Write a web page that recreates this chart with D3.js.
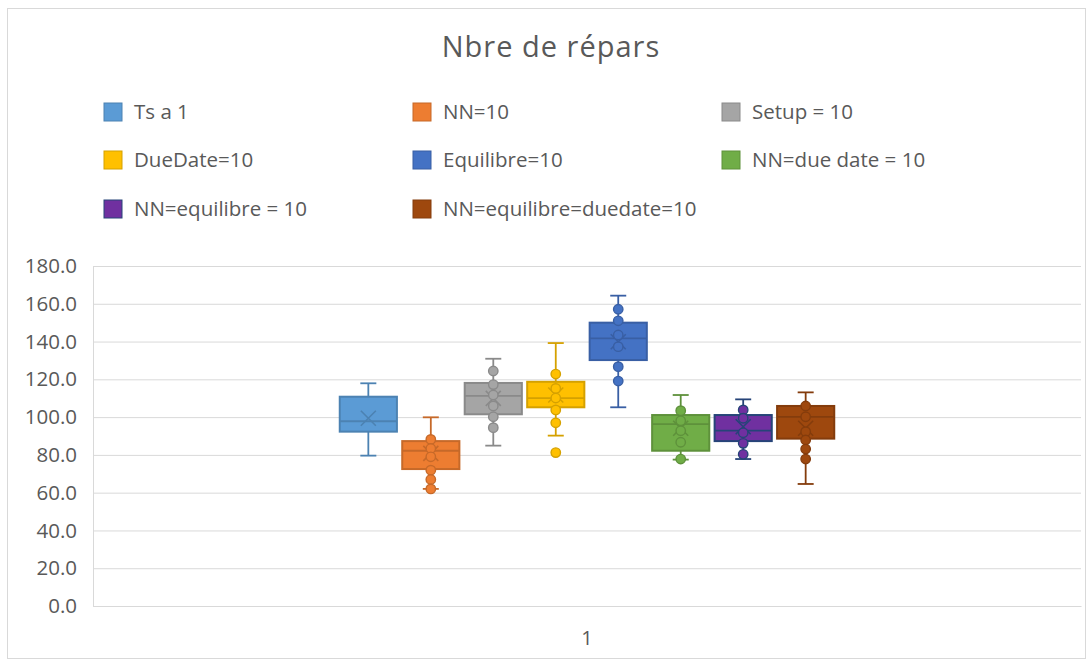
<!DOCTYPE html>
<html><head><meta charset="utf-8">
<script src="https://cdn.jsdelivr.net/npm/d3@7"></script>
<style>body{margin:0;background:#fff}svg{display:block}text{font-family:"Open Sans",sans-serif}</style>
</head><body>
<script>
const categories = ["1"];
const seriesNames = ["Ts a 1","NN=10","Setup = 10","DueDate=10","Equilibre=10","NN=due date = 10","NN=equilibre = 10","NN=equilibre=duedate=10"];
const whiskerLow  = [79.6, 62.0, 84.9, 90.2, 105.2, 77.5, 77.8, 64.6];
const q1Values    = [92.3, 72.5, 101.5, 105.2, 130.2, 82.2, 87.3, 88.6];
const medians     = [97.8, 82.2, 111.2, 110.0, 141.7, 96.3, 92.8, 100.1];
const q3Values    = [110.8, 87.3, 118.1, 118.7, 150.0, 101.1, 101.1, 105.9];
const whiskerHigh = [117.9, 99.9, 130.9, 139.2, 164.3, 111.7, 109.4, 113.1];
const means       = [99.4, 80.8, 109.9, 111.7, 139.9, 94.1, 94.9, 94.1];
const innerPoints = [
  [],
  [88.2, 83.4, 79.0, 71.9, 67.0, 62.0],
  [124.4, 117.2, 111.7, 105.9, 100.2, 94.4],
  [122.8, 115.2, 110.1, 103.8, 97.0, 81.2],
  [157.1, 151.0, 143.5, 137.3, 126.7, 119.1],
  [103.4, 98.1, 92.8, 86.7, 77.8],
  [103.8, 99.4, 91.7, 86.1, 80.3],
  [105.9, 100.2, 92.3, 87.9, 83.1, 77.8]
];
const yTicks = [0,20,40,60,80,100,120,140,160,180];

const fills = ["#5B9BD5","#ED7D31","#A5A5A5","#FFC000","#4472C4","#70AD47","#7030A0","#9E480E"];
const strokes = fills.map(c => d3.color(c).darker(0.5).formatHex());
strokes[6] = "#264478";

const W = 1091, H = 662;
const svg = d3.select("body").append("svg").attr("width", W).attr("height", H);
svg.append("rect").attr("x",7.5).attr("y",8.5).attr("width",1078).attr("height",650)
  .attr("fill","#fff").attr("stroke","#D9D9D9");

const margin = {left:93, right:1081, top:266, bottom:606};
const y = d3.scaleLinear().domain([0,180]).range([margin.bottom, margin.top]);
const x0 = d3.scaleBand().domain(categories).range([margin.left, margin.right]).paddingInner(0).paddingOuter(0.489);
const x1 = d3.scaleBand().domain(d3.range(seriesNames.length)).range([0, x0.bandwidth()]).paddingInner(0.085).paddingOuter(0.04);

svg.append("text").attr("x",551).attr("y",57).attr("text-anchor","middle")
  .attr("font-size",29).attr("letter-spacing","1px").attr("fill","#595959").text("Nbre de répars");

const gAxis = svg.append("g").attr("transform",`translate(${margin.left},0)`)
  .call(d3.axisLeft(y).tickValues(yTicks).tickFormat(d3.format(".1f")).tickSize(-(margin.right-margin.left)).tickPadding(16));
gAxis.select(".domain").attr("stroke","#D9D9D9");
gAxis.selectAll(".tick line").attr("stroke","#D9D9D9").attr("stroke-width",1);
gAxis.selectAll(".tick text").attr("fill","#595959").attr("font-size",20.5).attr("font-family","Open Sans, sans-serif");

const gx = svg.append("g").attr("transform",`translate(0,${margin.bottom})`)
  .call(d3.axisBottom(x0).tickSize(0).tickPadding(25));
gx.select(".domain").attr("stroke","#D9D9D9");
gx.selectAll(".tick text").attr("fill","#595959").attr("font-size",20).attr("font-family","Open Sans, sans-serif");

const legCols = [104, 413, 722], legRows = [112, 160, 209];
const leg = svg.append("g");
seriesNames.forEach((n,i) => {
  const lx = legCols[i%3], ly = legRows[Math.floor(i/3)];
  leg.append("rect").attr("x",lx).attr("y",ly-9).attr("width",18).attr("height",18)
    .attr("fill",fills[i]).attr("stroke",strokes[i]).attr("stroke-width",1);
  leg.append("text").attr("x",lx+30).attr("y",ly).attr("dy","0.35em")
    .attr("font-size",20.5).attr("fill","#595959").text(n);
});

const boxes = svg.append("g");
seriesNames.forEach((n,i) => {
  const bx = x0("1") + x1(i), bw = x1.bandwidth(), cx = bx + bw/2;
  const g = boxes.append("g");
  const sc = strokes[i];
  g.append("line").attr("x1",cx).attr("x2",cx).attr("y1",y(q3Values[i])).attr("y2",y(whiskerHigh[i])).attr("stroke",sc).attr("stroke-width",1.8);
  g.append("line").attr("x1",cx).attr("x2",cx).attr("y1",y(q1Values[i])).attr("y2",y(whiskerLow[i])).attr("stroke",sc).attr("stroke-width",1.8);
  [whiskerHigh[i], whiskerLow[i]].forEach(v => g.append("line").attr("x1",cx-8).attr("x2",cx+8).attr("y1",y(v)).attr("y2",y(v)).attr("stroke",sc).attr("stroke-width",1.8));
  g.append("rect").attr("x",bx).attr("y",y(q3Values[i])).attr("width",bw).attr("height",y(q1Values[i])-y(q3Values[i]))
    .attr("fill",fills[i]).attr("stroke",sc).attr("stroke-width",2);
  g.append("line").attr("x1",bx).attr("x2",bx+bw).attr("y1",y(medians[i])).attr("y2",y(medians[i])).attr("stroke",sc).attr("stroke-width",1.8);
  const my = y(means[i]), s = 7.5;
  g.append("path").attr("d",`M${cx-s},${my-s}L${cx+s},${my+s}M${cx-s},${my+s}L${cx+s},${my-s}`).attr("stroke",sc).attr("stroke-width",1.6).attr("fill","none");
  g.selectAll("circle").data(innerPoints[i]).join("circle")
    .attr("cx",cx).attr("cy",d=>y(d)).attr("r",4.7)
    .attr("fill",fills[i]).attr("stroke",sc).attr("stroke-width",1.4);
});
</script>
</body></html>
